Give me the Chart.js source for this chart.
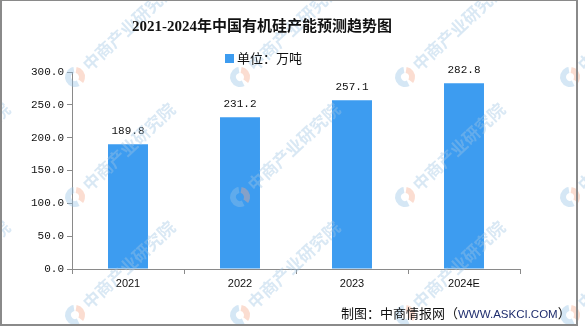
<!DOCTYPE html>
<html>
<head>
<meta charset="utf-8">
<script src="https://cdn.jsdelivr.net/npm/chart.js@4"></script>
<style>
  html, body { margin: 0; padding: 0; background: #fff; }
  #wrap { position: relative; width: 585px; height: 327px; overflow: hidden; }
  #frame { position: absolute; left: 0; top: 0; width: 574px; height: 323px; border: 2px solid #8a8a8a; border-top-width: 1px; box-sizing: content-box; }
  canvas { position: absolute; left: 0; top: 0; }
  .txt { position: absolute; white-space: nowrap; }
  #title { left: 0; width: 524px; top: 14px; text-align: center; font: bold 15px "Liberation Serif", "Noto Sans CJK SC", serif; color: #111; }
  #legend { left: 225px; top: 48px; font: 13px "Noto Sans CJK SC", sans-serif; color: #111; }
  #legend i { display: inline-block; width: 9px; height: 9px; background: #3d9cf0; margin-right: 3px; vertical-align: 0px; }
  #source { left: 341px; top: 303px; font: 13px "Noto Sans CJK SC", sans-serif; color: #111; }
  #source span { color: #1f2d6e; font: 11.5px "Liberation Sans", sans-serif; }
</style>
</head>
<body>
<div id="wrap">
  <canvas id="chart" width="585" height="327"></canvas>
  <div id="frame"></div>
  <div class="txt" id="title">2021-2024年中国有机硅产能预测趋势图</div>
  <div class="txt" id="legend"><i></i>单位：万吨</div>
  <div class="txt" id="source">制图：中商情报网（<span>WWW.ASKCI.COM</span>）</div>
</div>
<script>
const years = ['2021', '2022', '2023', '2024E'];
const capacity = [189.8, 231.2, 257.1, 282.8];
const yTicks = [0, 50, 100, 150, 200, 250, 300];

const barColor = '#3d9cf0';
const axisColor = '#8a8a8a';

// value labels above bars
const valueLabels = {
  id: 'valueLabels',
  afterDatasetsDraw(chart) {
    const ctx = chart.ctx;
    const meta = chart.getDatasetMeta(0);
    ctx.save();
    ctx.font = '11px "Liberation Mono", monospace';
    ctx.fillStyle = '#111';
    ctx.textAlign = 'center';
    ctx.textBaseline = 'middle';
    meta.data.forEach((bar, i) => {
      ctx.fillText(capacity[i].toFixed(1), bar.x, bar.y - 13);
    });
    ctx.restore();
  }
};

// faint tiled watermark over everything
const watermark = {
  id: 'watermark',
  afterDraw(chart) {
    const ctx = chart.ctx;
    ctx.save();
    ctx.globalAlpha = 0.4;
    for (const y of [-42, 77, 197, 315]) {
      for (const x of [-90, 75, 240, 405, 570]) {
        // logo
        ctx.lineWidth = 6;
        ctx.strokeStyle = 'rgb(150,195,230)';
        ctx.beginPath();
        ctx.arc(x, y, 7, 0.35 * Math.PI, 1.45 * Math.PI);
        ctx.stroke();
        ctx.strokeStyle = 'rgb(245,170,140)';
        ctx.beginPath();
        ctx.arc(x, y, 7, 1.55 * Math.PI, 2.2 * Math.PI);
        ctx.stroke();
        // text
        ctx.translate(x, y);
        ctx.rotate(-43 * Math.PI / 180);
        ctx.fillStyle = 'rgb(160,198,228)';
        ctx.font = 'bold 17px "Noto Sans CJK SC", sans-serif';
        ctx.textBaseline = 'middle';
        ctx.fillText('中商产业研究院', 14, 0);
        ctx.setTransform(1, 0, 0, 1, 0, 0);
      }
    }
    ctx.restore();
  }
};

new Chart(document.getElementById('chart').getContext('2d'), {
  type: 'bar',
  data: {
    labels: years,
    datasets: [{
      label: '单位：万吨',
      data: capacity,
      backgroundColor: barColor,
      barPercentage: 0.357,
      categoryPercentage: 1
    }]
  },
  options: {
    responsive: false,
    animation: false,
    layout: { padding: { left: 0, right: 65, top: 72, bottom: 28 } },
    plugins: {
      legend: { display: false },
      title: { display: false },
      tooltip: { enabled: false }
    },
    scales: {
      x: {
        grid: { drawOnChartArea: false, tickLength: 5, color: axisColor, offset: true },
        border: { color: axisColor, width: 1 },
        ticks: { color: '#111', font: { family: 'Liberation Sans', size: 11 }, padding: 3 },
        afterFit(scale) { scale.height = 30; }
      },
      y: {
        min: 0,
        max: 300,
        afterBuildTicks(scale) { scale.ticks = yTicks.map(v => ({ value: v })); },
        grid: { drawOnChartArea: false, tickLength: 5, color: axisColor },
        border: { color: axisColor, width: 1 },
        ticks: {
          color: '#111',
          font: { family: 'Liberation Mono', size: 11 },
          padding: 3,
          callback: v => Number(v).toFixed(1)
        },
        afterFit(scale) { scale.width = 72; }
      }
    }
  },
  plugins: [valueLabels, watermark]
});
</script>
</body>
</html>
